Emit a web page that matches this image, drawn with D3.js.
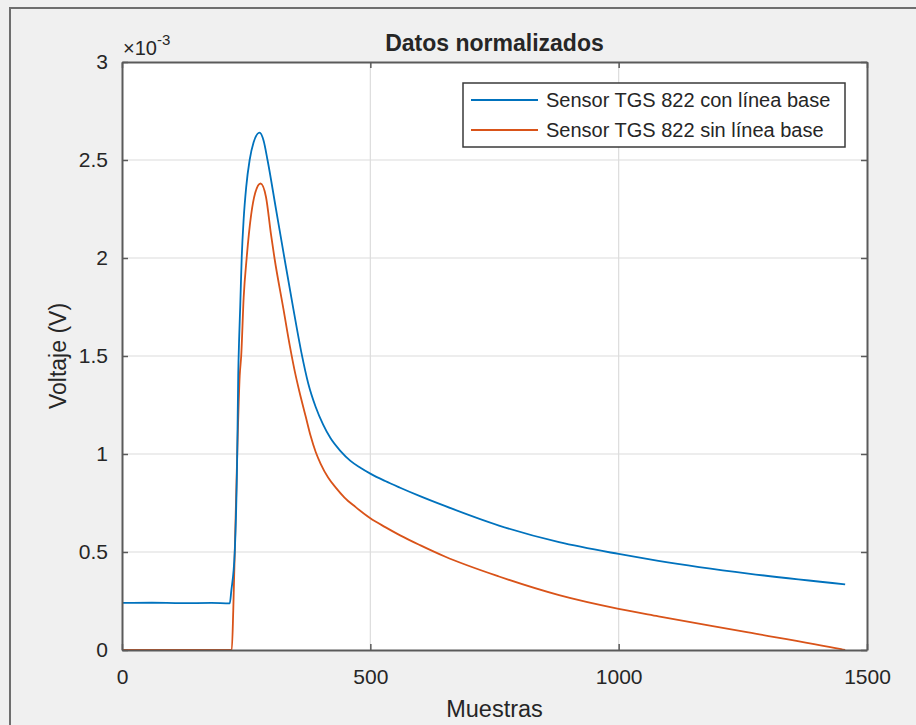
<!DOCTYPE html>
<html>
<head>
<meta charset="utf-8">
<script src="https://cdn.jsdelivr.net/npm/d3@7"></script>
<style>
  body { margin: 0; background: #f0f0f0; }
  text { font-family: "Liberation Sans", Arial, sans-serif; fill: #262626; }
</style>
</head>
<body>
<div id="vis"></div>
<script>
const FRAME_WIDTH = 916;
const FRAME_HEIGHT = 725;
const MARGINS = { top: 62, bottom: 75, left: 122, right: 49 };
const VIS_WIDTH = FRAME_WIDTH - MARGINS.left - MARGINS.right;
const VIS_HEIGHT = FRAME_HEIGHT - MARGINS.top - MARGINS.bottom;

// data (value in units of 1e-3 V)
const BLUE_X = [0, 60, 120, 180, 217, 220, 227, 232, 234, 236, 238, 241, 245, 250, 257, 265, 277, 285, 293, 310, 327, 345, 361, 375, 390, 405, 420, 440, 460, 480, 500, 530, 560, 600, 650, 759, 880, 1000, 1080, 1261, 1456];
const BLUE_Y = [0.24, 0.241, 0.239, 0.24, 0.238, 0.3, 0.5, 1.0, 1.4, 1.6, 1.75, 2.0, 2.2, 2.36, 2.5, 2.59, 2.64, 2.6, 2.5, 2.25, 2.0, 1.74, 1.52, 1.36, 1.24, 1.15, 1.08, 1.015, 0.965, 0.93, 0.9, 0.862, 0.828, 0.785, 0.735, 0.635, 0.55, 0.49, 0.455, 0.39, 0.335];
const ORANGE_X = [0, 100, 200, 221, 224, 228, 232, 237, 240, 245, 251, 260, 268, 279, 290, 300, 307, 325, 338, 348, 357, 370, 380, 390, 400, 415, 430, 448, 470, 500, 530, 560, 600, 650, 759, 880, 1000, 1080, 1261, 1448, 1456];
const ORANGE_Y = [0, 0, 0, 0, 0.2, 0.6, 1.0, 1.4, 1.5, 1.8, 2.0, 2.22, 2.33, 2.38, 2.31, 2.12, 2.0, 1.74, 1.55, 1.42, 1.32, 1.19, 1.09, 1.01, 0.95, 0.88, 0.83, 0.778, 0.73, 0.672, 0.627, 0.585, 0.535, 0.477, 0.375, 0.28, 0.21, 0.172, 0.09, 0.004, 0.0];
const X_TICKS = [0, 500, 1000, 1500];
const Y_TICKS = [0, 0.5, 1, 1.5, 2, 2.5, 3];
const SERIES_NAMES = ["Sensor TGS 822 con línea base", "Sensor TGS 822 sin línea base"];
const COLORS = ["#0072BD", "#D95319"];

const FRAME = d3.select("#vis")
  .append("svg")
  .attr("width", FRAME_WIDTH)
  .attr("height", FRAME_HEIGHT);

// figure border
FRAME.append("rect")
  .attr("x", 10).attr("y", 8)
  .attr("width", FRAME_WIDTH + 20).attr("height", FRAME_HEIGHT + 20)
  .attr("fill", "#f0f0f0")
  .attr("stroke", "#6e6e6e")
  .attr("stroke-width", 2);

const X_SCALE = d3.scaleLinear().domain([0, 1500]).range([0, VIS_WIDTH]);
const Y_SCALE = d3.scaleLinear().domain([0, 3]).range([VIS_HEIGHT, 0]);

const G = FRAME.append("g")
  .attr("transform", `translate(${MARGINS.left},${MARGINS.top})`);

G.append("rect")
  .attr("width", VIS_WIDTH).attr("height", VIS_HEIGHT)
  .attr("fill", "white");

// grid
G.selectAll(".vgrid").data(X_TICKS.slice(1, -1)).enter()
  .append("line")
  .attr("x1", (d) => X_SCALE(d)).attr("x2", (d) => X_SCALE(d))
  .attr("y1", 0).attr("y2", VIS_HEIGHT)
  .attr("stroke", "#dcdcdc").attr("stroke-width", 1.2);
G.selectAll(".hgrid").data(Y_TICKS.slice(1, -1)).enter()
  .append("line")
  .attr("y1", (d) => Y_SCALE(d)).attr("y2", (d) => Y_SCALE(d))
  .attr("x1", 0).attr("x2", VIS_WIDTH)
  .attr("stroke", "#dcdcdc").attr("stroke-width", 1.2);

// lines
const line = d3.line()
  .x((d) => X_SCALE(d[0]))
  .y((d) => Y_SCALE(d[1]))
  .curve(d3.curveMonotoneX);

const SERIES = [
  BLUE_X.map((x, i) => [x, BLUE_Y[i]]),
  ORANGE_X.map((x, i) => [x, ORANGE_Y[i]])
];

// orange first, blue on top at the steep rise
[1, 0].forEach((k) => {
  G.append("path")
    .datum(SERIES[k])
    .attr("d", line)
    .attr("fill", "none")
    .attr("stroke", COLORS[k])
    .attr("stroke-width", 1.8);
});

// axes
const xAxis = G.append("g")
  .attr("transform", `translate(0,${VIS_HEIGHT})`)
  .call(d3.axisBottom(X_SCALE).tickValues(X_TICKS).tickFormat(d3.format("d")).tickSizeInner(-6).tickSizeOuter(0).tickPadding(19));
const yAxis = G.append("g")
  .call(d3.axisLeft(Y_SCALE).tickValues(Y_TICKS).tickFormat(d3.format("")).tickSizeInner(-6).tickSizeOuter(0).tickPadding(14));
const xTop = G.append("g")
  .call(d3.axisTop(X_SCALE).tickValues(X_TICKS).tickSizeInner(-6).tickSizeOuter(0).tickFormat(""));
const yRight = G.append("g")
  .attr("transform", `translate(${VIS_WIDTH},0)`)
  .call(d3.axisRight(Y_SCALE).tickValues(Y_TICKS).tickSizeInner(-6).tickSizeOuter(0).tickFormat(""));

[xAxis, yAxis, xTop, yRight].forEach((a) => {
  a.selectAll("path").attr("stroke", "#5a5a5a").attr("stroke-width", 2);
  a.selectAll("line").attr("stroke", "#5a5a5a").attr("stroke-width", 1.5);
  a.selectAll("text")
    .attr("font-size", 21)
    .attr("font-family", "'Liberation Sans', Arial, sans-serif")
    .attr("fill", "#262626");
});

// exponent
const expo = FRAME.append("text")
  .attr("x", 123).attr("y", 55)
  .style("font-size", "20px");
expo.append("tspan").style("font-size", "20px").text("\u00d710");
expo.append("tspan").attr("dy", -10).style("font-size", "15px").text("-3");

// title and labels
FRAME.append("text")
  .attr("x", MARGINS.left + VIS_WIDTH / 2)
  .attr("y", 51)
  .attr("text-anchor", "middle")
  .attr("font-size", 23)
  .attr("font-weight", "bold")
  .attr("fill", "#000")
  .text("Datos normalizados");

FRAME.append("text")
  .attr("x", MARGINS.left + VIS_WIDTH / 2)
  .attr("y", 717)
  .attr("text-anchor", "middle")
  .attr("font-size", 23.5)
  .text("Muestras");

FRAME.append("text")
  .attr("transform", `translate(66,${MARGINS.top + VIS_HEIGHT / 2}) rotate(-90)`)
  .attr("text-anchor", "middle")
  .attr("font-size", 23)
  .text("Voltaje (V)");

// legend
const LEG = FRAME.append("g").attr("transform", "translate(463,83)");
LEG.append("rect")
  .attr("width", 382).attr("height", 64)
  .attr("fill", "white")
  .attr("stroke", "#3a3a3a")
  .attr("stroke-width", 1.5);
SERIES_NAMES.forEach((name, i) => {
  LEG.append("line")
    .attr("x1", 8).attr("x2", 75)
    .attr("y1", 17 + i * 30).attr("y2", 17 + i * 30)
    .attr("stroke", COLORS[i]).attr("stroke-width", 1.8);
  LEG.append("text")
    .attr("x", 83).attr("y", 17 + i * 30 + 7)
    .attr("font-size", 20)
    .text(name);
});
</script>
</body>
</html>
